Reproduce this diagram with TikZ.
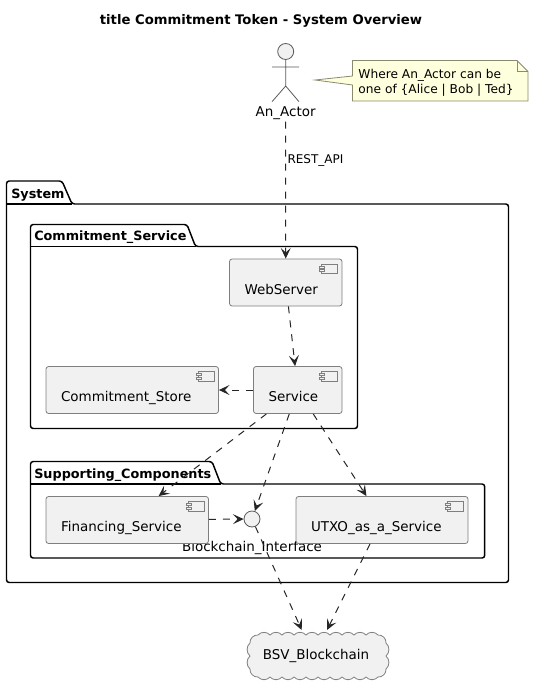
\documentclass[tikz,border=0pt]{standalone}
\usepackage{fontspec}
\setmainfont{DejaVu Sans}
\usetikzlibrary{arrows.meta}

\definecolor{boxfill}{HTML}{F1F1F1}
\definecolor{boxline}{HTML}{7F7F7F}
\definecolor{notefill}{HTML}{FEFFDD}
\definecolor{noteline}{HTML}{8A8A70}

\tikzset{
  comp/.style={draw=boxline, fill=boxfill, line width=0.6pt, rounded corners=2pt, align=left,
    text width=#1*0.75pt-22.5pt, inner xsep=11.25pt, inner ysep=0pt,
    text height=26.6pt, text depth=8.7pt, font=\fontsize{10.1}{12}\selectfont},
  pkg/.style={draw=black, line width=1.1pt, rounded corners=2pt},
  pkgname/.style={anchor=west, inner sep=0pt, font=\fontsize{9.6}{12}\selectfont\bfseries},
  icon/.style={draw=boxline, line width=0.6pt},
  scallop/.style={bend left=50},
  dep/.style={draw=black!85, line width=0.75pt, dash pattern=on 5.25pt off 5.25pt,
    -{Stealth[length=8pt,width=7.5pt,inset=3.5pt]}}
}

\newcommand{\compicon}[1]{
  \begin{scope}[shift={(#1.north east)}]
    \draw[icon, fill=boxfill] (-21,5.5) rectangle (-5,15);
    \draw[icon, fill=boxfill] (-23,7.5) rectangle (-18,9.5);
    \draw[icon, fill=boxfill] (-23,11) rectangle (-18,13);
  \end{scope}
}

\begin{document}
\begin{tikzpicture}[x=0.75pt,y=-0.75pt]
\useasboundingbox (0,0) rectangle (534,689);

\node[font=\fontsize{9.9}{12}\selectfont\bfseries] (title) at (261,20.5) {title Commitment Token - System Overview};

\draw[draw=boxline!70!black, line width=0.6pt, fill=boxfill] (285.7,51.5) circle (8);
\draw[draw=boxline!70!black, line width=0.6pt] (285.7,59.5) -- (285.7,86) (272,67) -- (299,67) (272,101.7) -- (285.7,86) -- (299,101.7);
\node[font=\fontsize{10.1}{12}\selectfont, inner sep=1pt] (An_Actor) at (285.7,113.5) {An\_Actor};

\draw[draw=noteline, fill=notefill, line width=0.6pt] (352.5,60.5) -- (517,60.5) -- (528,71.5) -- (528,101) -- (352.5,101) -- (352.5,85) -- (315,80) -- (352.5,76) -- cycle;
\draw[draw=noteline, line width=0.6pt] (517,60.5) -- (517,71.5) -- (528,71.5);
\node[font=\fontsize{9.15}{11.3}\selectfont, align=left, inner sep=0pt] (actor_note) at (436,82.5) {Where An\_Actor can be\\one of \{Alice | Bob | Ted\}};

\draw[pkg] (6.5,204) -- (6.5,181) -- (62,181) -- (72,204) -- (508.5,204) -- (508.5,582.5) -- (6.5,582.5) -- cycle;
\draw[pkg] (6.5,204) -- (72,204);
\node[pkgname] (System) at (11,195) {System};

\draw[pkg] (30.5,246.5) -- (30.5,224.5) -- (187,224.5) -- (195.5,246.5) -- (357.5,246.5) -- (357.5,428.5) -- (30.5,428.5) -- cycle;
\draw[pkg] (30.5,246.5) -- (195.5,246.5);
\node[pkgname] (Commitment_Service) at (34,237.5) {Commitment\_Service};

\draw[pkg] (30.5,484) -- (30.5,461.5) -- (212,461.5) -- (220.7,484) -- (484.7,484) -- (484.7,558) -- (30.5,558) -- cycle;
\draw[pkg] (30.5,484) -- (220.7,484);
\node[pkgname] (Supporting_Components) at (34,475) {Supporting\_Components};

\node[font=\fontsize{10.1}{12}\selectfont, inner sep=0pt] (Interface_label) at (252,547.5) {Blockchain\_Interface};

\node[comp=112.5] (WebServer) at (285.75,282.5) {WebServer};
\node[comp=88.5] (Service) at (297.75,390) {Service};
\node[comp=172.5] (Commitment_Store) at (132.25,390) {Commitment\_Store};
\node[comp=162.5] (Financing_Service) at (127.25,520) {Financing\_Service};
\node[comp=172] (UTXO_as_a_Service) at (382,520) {UTXO\_as\_a\_Service};

\compicon{WebServer}
\compicon{Service}
\compicon{Commitment_Store}
\compicon{Financing_Service}
\compicon{UTXO_as_a_Service}

\node[circle, draw=boxline!70!black, fill=boxfill, line width=0.6pt, minimum size=12pt, inner sep=0pt] (Blockchain_Interface) at (252,519) {};

\draw[draw=boxline, fill=boxfill, line width=0.6pt] (258,635)
  \foreach \i in {1,...,10} { to[scallop] ++(12,0) }
  to[scallop] ++(8,8)
  \foreach \i in {1,2} { to[scallop] ++(0,13) }
  to[scallop] ++(-8,8)
  \foreach \i in {1,...,10} { to[scallop] ++(-12,0) }
  to[scallop] ++(-8,-8)
  \foreach \i in {1,2} { to[scallop] ++(0,-13) }
  to[scallop] cycle;
\node[font=\fontsize{10.1}{12}\selectfont, inner sep=0pt] (BSV_Blockchain) at (316,655.5) {BSV\_Blockchain};

\coordinate (bsv_left) at (301.7,630);
\coordinate (bsv_right) at (327,630);

\draw[dep] (An_Actor) -- node[pos=0.285, right, inner sep=1pt, font=\fontsize{9}{11}\selectfont] (REST_API) {REST\_API} (WebServer);
\draw[dep] (WebServer) -- (Service);
\draw[dep] (Service) -- (Commitment_Store);
\draw[dep] (Service) -- (Financing_Service);
\draw[dep] (Service) -- (Blockchain_Interface);
\draw[dep] (Service) -- (UTXO_as_a_Service);
\draw[dep] (Financing_Service) -- (Blockchain_Interface);
\draw[dep] (Blockchain_Interface) -- (bsv_left);
\draw[dep] (UTXO_as_a_Service) -- (bsv_right);
\end{tikzpicture}
\end{document}
